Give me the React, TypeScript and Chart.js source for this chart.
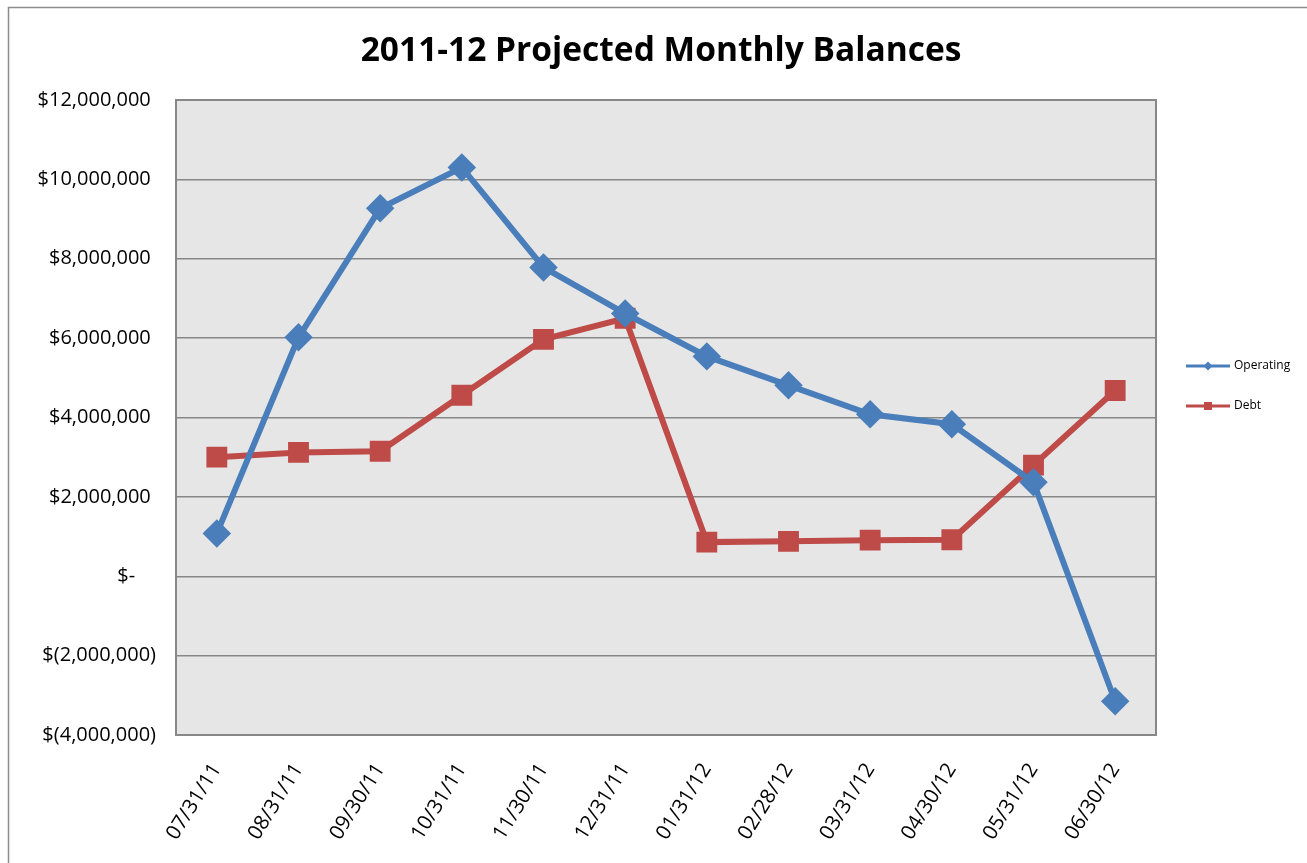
import React, { useEffect, useRef } from "react";
import { Chart, registerables } from "chart.js";

Chart.register(...registerables);

const categories = [
  "07/31/11", "08/31/11", "09/30/11", "10/31/11", "11/30/11", "12/31/11",
  "01/31/12", "02/28/12", "03/31/12", "04/30/12", "05/31/12", "06/30/12",
];
const operating = [1080000, 6020000, 9270000, 10300000, 7780000, 6620000, 5540000, 4810000, 4080000, 3830000, 2370000, -3150000];
const debt = [3000000, 3120000, 3150000, 4560000, 5970000, 6500000, 860000, 880000, 910000, 920000, 2800000, 4680000];
const seriesNames = ["Operating", "Debt"];
const seriesColors = ["#4a7ebb", "#be4b48"];
const yTickValues = [-4000000, -2000000, 0, 2000000, 4000000, 6000000, 8000000, 10000000, 12000000];
const chartTitle = "2011-12 Projected Monthly Balances";

function fmt(v: number): string {
  if (v === 0) return "$-    ";
  const s = Math.abs(v).toLocaleString("en-US");
  return v < 0 ? `$(${s})` : `$${s} `;
}

const FONT = "'Open Sans', 'Noto Sans', sans-serif";

const decor = {
  id: "decor",
  beforeDraw(chart: any) {
    const { ctx, chartArea } = chart;
    ctx.save();
    ctx.fillStyle = "#ffffff";
    ctx.fillRect(0, 0, chart.width, chart.height);
    ctx.strokeStyle = "#8c8c8c";
    ctx.lineWidth = 1.5;
    ctx.strokeRect(8.5, 7.5, chart.width + 10, chart.height + 10);
    ctx.fillStyle = "#e6e6e6";
    ctx.fillRect(chartArea.left, chartArea.top, chartArea.right - chartArea.left, chartArea.bottom - chartArea.top);
    ctx.restore();
  },
  afterDraw(chart: any) {
    const { ctx, chartArea } = chart;
    ctx.save();
    ctx.strokeStyle = "#878787";
    ctx.lineWidth = 2;
    ctx.strokeRect(chartArea.left, chartArea.top, chartArea.right - chartArea.left, chartArea.bottom - chartArea.top);
    // title
    ctx.fillStyle = "#000";
    ctx.font = `bold 33.5px ${FONT}`;
    ctx.textAlign = "center";
    ctx.textBaseline = "middle";
    ctx.fillText(chartTitle, 661, 51);
    // legend
    const items = [
      { y: 366, style: "diamond" },
      { y: 406, style: "square" },
    ];
    items.forEach((it, i) => {
      const x0 = 1186, x1 = 1230;
      ctx.strokeStyle = seriesColors[i];
      ctx.lineWidth = 3;
      ctx.beginPath();
      ctx.moveTo(x0, it.y);
      ctx.lineTo(x1, it.y);
      ctx.stroke();
      ctx.fillStyle = seriesColors[i];
      const cx = (x0 + x1) / 2;
      if (it.style === "diamond") {
        ctx.beginPath();
        ctx.moveTo(cx, it.y - 4.5);
        ctx.lineTo(cx + 4.5, it.y);
        ctx.lineTo(cx, it.y + 4.5);
        ctx.lineTo(cx - 4.5, it.y);
        ctx.closePath();
        ctx.fill();
      } else {
        ctx.fillRect(cx - 4, it.y - 4, 8, 8);
      }
      ctx.fillStyle = "#000";
      ctx.font = `12px ${FONT}`;
      ctx.textAlign = "left";
      ctx.textBaseline = "middle";
      ctx.fillText(seriesNames[i], 1234, it.y);
    });
    ctx.restore();
  },
};

export default function App() {
  const ref = useRef<HTMLCanvasElement>(null);
  useEffect(() => {
    if (!ref.current) return;
    const chart = new Chart(ref.current, {
      type: "line",
      data: {
        labels: categories,
        datasets: [
          {
            label: seriesNames[0],
            data: operating,
            borderColor: seriesColors[0],
            backgroundColor: seriesColors[0],
            borderWidth: 6,
            pointStyle: "rectRot",
            pointRadius: 10,
            pointHoverRadius: 10,
            tension: 0,
          },
          {
            label: seriesNames[1],
            data: debt,
            borderColor: seriesColors[1],
            backgroundColor: seriesColors[1],
            borderWidth: 6,
            pointStyle: "rect",
            pointRadius: 10.5,
            pointHoverRadius: 10.5,
            tension: 0,
          },
        ],
      },
      options: {
        responsive: false,
        animation: false,
        layout: { padding: { left: 0, top: 100, right: 151, bottom: 0 } },
        plugins: {
          legend: { display: false },
          tooltip: { enabled: false },
          title: { display: false },
        },
        scales: {
          x: {
            offset: true,
            grid: { display: false, drawTicks: false },
            border: { display: false },
            ticks: {
              color: "#000",
              font: { family: FONT, size: 20.5 },
              minRotation: 58,
              maxRotation: 58,
              padding: 24,
              autoSkip: false,
            },
            afterFit(scale: any) {
              scale.height = 128;
            },
          },
          y: {
            min: -4000000,
            max: 12000000,
            grid: { color: "#878787", lineWidth: 1.5, drawTicks: false },
            border: { display: false },
            afterBuildTicks(scale: any) {
              scale.ticks = yTickValues.map((v) => ({ value: v }));
            },
            ticks: {
              color: "#000",
              font: { family: FONT, size: 20 },
              padding: 20,
              callback: (v: any) => fmt(Number(v)),
            },
            afterFit(scale: any) {
              scale.width = 176;
            },
          },
        },
      },
      plugins: [decor],
    });
    return () => chart.destroy();
  }, []);
  return (
    <div style={{ position: "absolute", left: 0, top: 0, width: 1307, height: 863 }}>
      <canvas ref={ref} width={1307} height={863} />
    </div>
  );
}
